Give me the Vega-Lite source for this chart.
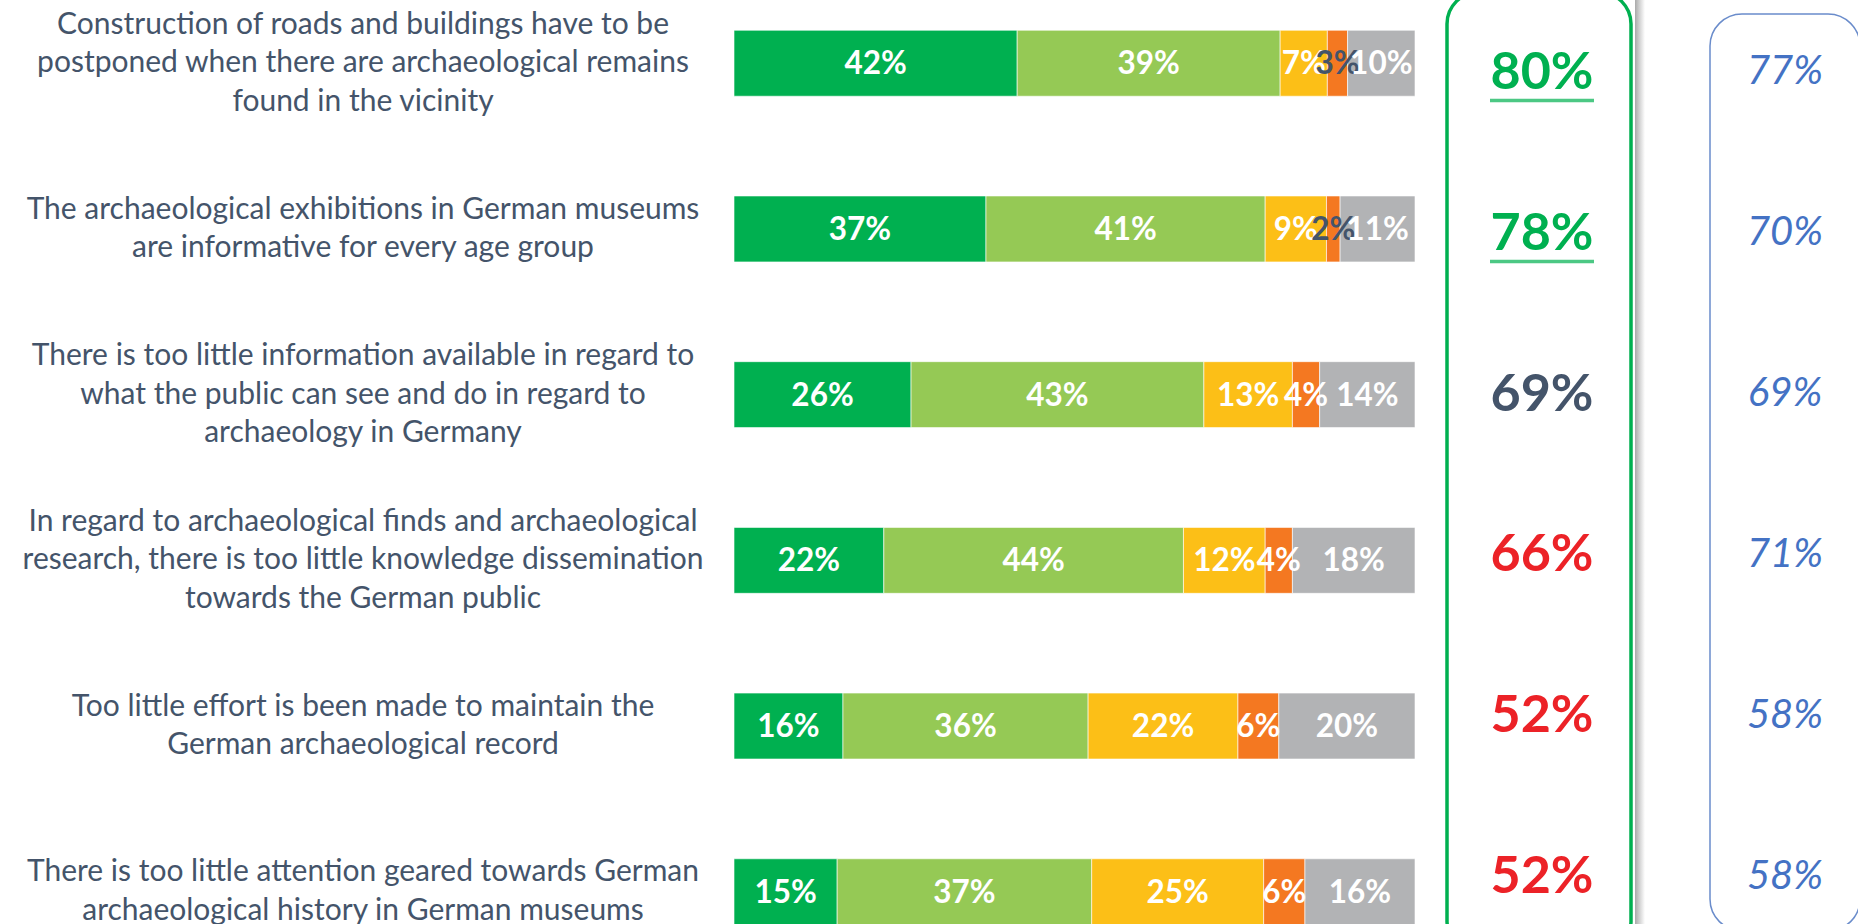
{
  "$schema": "https://vega.github.io/schema/vega-lite/v6.json",
  "padding": {"left": 0, "top": -10, "right": 0, "bottom": 0},
  "background": "white",
  "config": {"view": {"stroke": null}, "font": "Lato"},
  "datasets": {
    "seg": [
      {"q": 1, "k": 1, "cat": "Strongly agree", "v": 42},
      {"q": 1, "k": 2, "cat": "Agree", "v": 39},
      {"q": 1, "k": 3, "cat": "Neutral", "v": 7},
      {"q": 1, "k": 4, "cat": "Disagree", "v": 3},
      {"q": 1, "k": 5, "cat": "Don't know", "v": 10},
      {"q": 2, "k": 1, "cat": "Strongly agree", "v": 37},
      {"q": 2, "k": 2, "cat": "Agree", "v": 41},
      {"q": 2, "k": 3, "cat": "Neutral", "v": 9},
      {"q": 2, "k": 4, "cat": "Disagree", "v": 2},
      {"q": 2, "k": 5, "cat": "Don't know", "v": 11},
      {"q": 3, "k": 1, "cat": "Strongly agree", "v": 26},
      {"q": 3, "k": 2, "cat": "Agree", "v": 43},
      {"q": 3, "k": 3, "cat": "Neutral", "v": 13},
      {"q": 3, "k": 4, "cat": "Disagree", "v": 4},
      {"q": 3, "k": 5, "cat": "Don't know", "v": 14},
      {"q": 4, "k": 1, "cat": "Strongly agree", "v": 22},
      {"q": 4, "k": 2, "cat": "Agree", "v": 44},
      {"q": 4, "k": 3, "cat": "Neutral", "v": 12},
      {"q": 4, "k": 4, "cat": "Disagree", "v": 4},
      {"q": 4, "k": 5, "cat": "Don't know", "v": 18},
      {"q": 5, "k": 1, "cat": "Strongly agree", "v": 16},
      {"q": 5, "k": 2, "cat": "Agree", "v": 36},
      {"q": 5, "k": 3, "cat": "Neutral", "v": 22},
      {"q": 5, "k": 4, "cat": "Disagree", "v": 6},
      {"q": 5, "k": 5, "cat": "Don't know", "v": 20},
      {"q": 6, "k": 1, "cat": "Strongly agree", "v": 15},
      {"q": 6, "k": 2, "cat": "Agree", "v": 37},
      {"q": 6, "k": 3, "cat": "Neutral", "v": 25},
      {"q": 6, "k": 4, "cat": "Disagree", "v": 6},
      {"q": 6, "k": 5, "cat": "Don't know", "v": 16}
    ],
    "tot": [
      {"q": 1, "label": "Construction of roads and buildings have to be|postponed when there are archaeological remains|found in the vicinity", "agree": 80, "prev": 77},
      {"q": 2, "label": "The archaeological exhibitions in German museums|are informative for every age group", "agree": 78, "prev": 70},
      {"q": 3, "label": "There is too little information available in regard to|what the public can see and do in regard to|archaeology in Germany", "agree": 69, "prev": 69},
      {"q": 4, "label": "In regard to archaeological finds and archaeological|research, there is too little knowledge dissemination|towards the German public", "agree": 66, "prev": 71},
      {"q": 5, "label": "Too little effort is been made to maintain the|German archaeological record", "agree": 52, "prev": 58},
      {"q": 6, "label": "There is too little attention geared towards German|archaeological history in German museums", "agree": 52, "prev": 58}
    ]
  },
  "spacing": 7,
  "resolve": {"scale": {"y": "independent", "x": "independent"}},
  "hconcat": [
    {
      "width": 726,
      "height": 971,
      "data": {"name": "tot"},
      "transform": [{"calculate": "length(split(datum.label, '|'))", "as": "nl"}],
      "encoding": {
        "y": {"field": "q", "type": "ordinal", "axis": null, "scale": {"type": "band", "paddingInner": 0.602, "paddingOuter": 0.231}},
        "text": {"field": "label"}
      },
      "layer": [
        {
          "transform": [{"filter": "datum.nl == 3"}],
          "mark": {"type": "text", "lineBreak": "|", "fontSize": 30, "lineHeight": 38.5, "color": "#44546A", "align": "center", "baseline": "middle", "font": "Lato", "dy": -38.5}
        },
        {
          "transform": [{"filter": "datum.nl == 2"}],
          "mark": {"type": "text", "lineBreak": "|", "fontSize": 30, "lineHeight": 38.5, "color": "#44546A", "align": "center", "baseline": "middle", "font": "Lato", "dy": -19.25}
        }
      ]
    },
    {
      "spacing": 29,
      "resolve": {"scale": {"y": "independent", "x": "independent"}},
      "hconcat": [
        {
          "width": 681,
          "height": 971,
          "data": {"name": "seg"},
          "transform": [
            {"stack": "v", "groupby": ["q"], "sort": [{"field": "k", "order": "ascending"}], "offset": "normalize", "as": ["x0", "x1"]},
            {"calculate": "(datum.x0 + datum.x1) / 2", "as": "xm"},
            {"calculate": "datum.v + '%'", "as": "lab"}
          ],
          "encoding": {
            "y": {"field": "q", "type": "ordinal", "axis": null, "scale": {"type": "band", "paddingInner": 0.602, "paddingOuter": 0.231}}
          },
          "layer": [
            {
              "mark": {"type": "bar", "stroke": "white", "strokeWidth": 1, "strokeOpacity": 0.6},
              "encoding": {
                "x": {"field": "x0", "type": "quantitative", "axis": null, "scale": {"domain": [0, 1], "nice": false, "zero": false}},
                "x2": {"field": "x1"},
                "color": {"field": "cat", "type": "nominal", "legend": null,
                  "scale": {"domain": ["Strongly agree", "Agree", "Neutral", "Disagree", "Don't know"],
                            "range": ["#00B050", "#95C955", "#FCBF17", "#F47821", "#B2B3B5"]}}
              }
            },
            {
              "mark": {"type": "text", "fontSize": 31.5, "fontWeight": "bold", "font": "Lato", "baseline": "middle", "align": "center", "dy": 2},
              "encoding": {
                "x": {"field": "xm", "type": "quantitative"},
                "text": {"field": "lab"},
                "color": {"condition": {"test": "datum.v <= 3", "value": "#44546A"}, "value": "white"}
              }
            }
          ]
        },
        {
          "spacing": 64,
          "resolve": {"scale": {"y": "independent", "x": "independent"}},
          "hconcat": [
            {
              "spacing": 2,
              "resolve": {"scale": {"y": "independent", "x": "independent"}},
              "hconcat": [
                {
                  "width": 184,
                  "height": 962,
                  "view": {"stroke": "#00B050", "strokeWidth": 3.5, "cornerRadius": 32, "fill": "white"},
                  "data": {"name": "tot"},
                  "transform": [{"calculate": "datum.agree + '%'", "as": "alab"}],
                  "encoding": {
                    "y": {"field": "q", "type": "ordinal", "axis": null, "scale": {"type": "band", "paddingInner": 0.5, "paddingOuter": 0.2376}}
                  },
                  "layer": [
                    {
                      "mark": {"type": "text", "fontSize": 52, "fontWeight": "bold", "font": "Lato", "baseline": "middle", "align": "center", "dy": 2, "dx": 3},
                      "encoding": {
                        "text": {"field": "alab"},
                        "color": {"condition": [{"test": "datum.agree > datum.prev", "value": "#00B050"}, {"test": "datum.agree < datum.prev", "value": "#EC2227"}], "value": "#44546A"}
                      }
                    },
                    {
                      "transform": [{"filter": "datum.agree > datum.prev"}],
                      "mark": {"type": "tick", "orient": "horizontal", "thickness": 3.5, "yOffset": 30, "xOffset": 3, "color": "#00B050"},
                      "encoding": {"size": {"value": 104}}
                    }
                  ]
                },
                {
                  "width": 10,
                  "height": 962,
                  "data": {"values": [{}]},
                  "mark": {"type": "rect", "cornerRadiusTopRight": 8,
                    "color": {"gradient": "linear", "x1": 0, "y1": 0, "x2": 1, "y2": 0,
                      "stops": [{"offset": 0, "color": "#A9A9A9"}, {"offset": 0.5, "color": "#D6D6D6"}, {"offset": 1, "color": "#FFFFFF"}]}},
                  "encoding": {}
                }
              ]
            },
            {
              "spacing": 20,
              "vconcat": [
                {
                  "width": 150,
                  "height": 1,
                  "data": {"values": []},
                  "mark": {"type": "point", "opacity": 0}
                },
                {
                  "width": 150,
                  "height": 917,
                  "view": {"stroke": "#6A8CCB", "strokeWidth": 1.5, "cornerRadius": 32, "fill": "white"},
                  "data": {"name": "tot"},
                  "transform": [{"calculate": "datum.prev + '%'", "as": "plab"}],
                  "mark": {"type": "text", "fontSize": 40, "fontStyle": "italic", "font": "Lato", "color": "#4472C4", "baseline": "middle", "align": "center", "dy": 2},
                  "encoding": {
                    "y": {"field": "q", "type": "ordinal", "axis": null, "scale": {"type": "band", "paddingInner": 0.5, "paddingOuter": 0.0978}},
                    "text": {"field": "plab"}
                  }
                }
              ]
            }
          ]
        }
      ]
    }
  ]
}
